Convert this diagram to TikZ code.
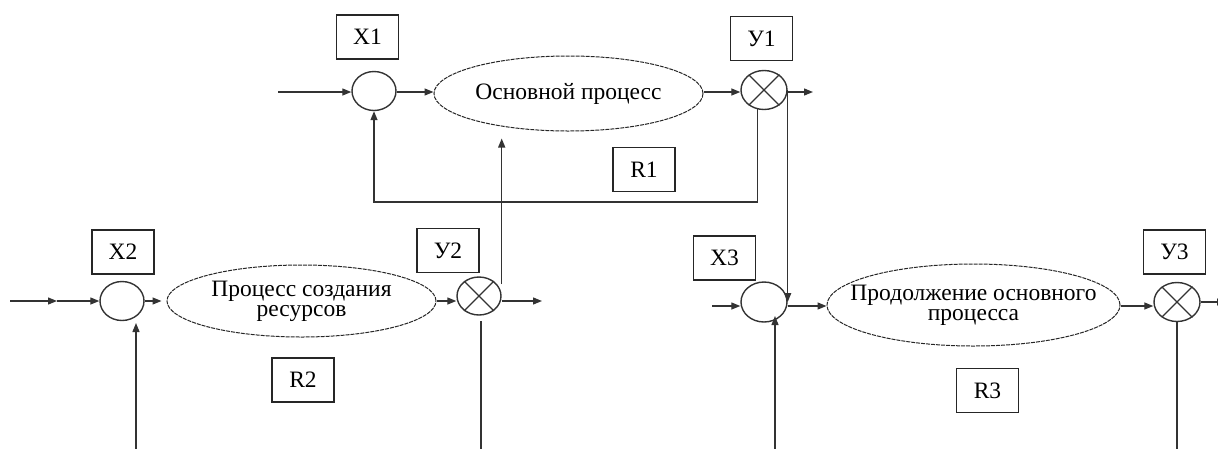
\documentclass[tikz,border=0pt]{standalone}
\usepackage{fontspec}
\setmainfont{Liberation Serif}
\usetikzlibrary{arrows.meta,shapes.geometric,calc}
\begin{document}
\begin{tikzpicture}[x=1pt,y=-1pt,
  ln/.style={line width=1.3pt,draw=black!80},
  arr/.style={ln,-{Triangle[length=9pt,width=7pt]}},
  lbl/.style={draw=black!85,line width=1.3pt,minimum width=62pt,minimum height=44pt,inner sep=0pt,font=\fontsize{23.5}{20}\selectfont},
  sumc/.style={ellipse,draw=black!80,line width=1.4pt,minimum width=46pt,minimum height=39pt,inner sep=0pt},
  proc/.style={ellipse,draw=black!85,line width=1pt,dash pattern=on 4pt off 1pt,inner xsep=-40pt,inner ysep=-8pt,align=center,font=\fontsize{23.5}{20}\selectfont}
]
\useasboundingbox (0,0) rectangle (1218,448);
% reference rows
\coordinate (r1) at (0,92);
\coordinate (r2) at (0,301);
\coordinate (r3) at (0,306);
\coordinate (fb1) at (0,202);
\coordinate (bot) at (0,450);
% top row
\node[lbl] (bx1) at (367.5,37) {X1};
\node[lbl] (by1) at (761.5,38.5) {У1};
\node[lbl] (br1) at (644,169.5) {R1};
\node[sumc,minimum width=44pt] (c1) at (374,91) {};
\node[proc,minimum width=269pt,minimum height=75pt] (e1) at (568.5,93.5) {Основной процесс};
\node[sumc] (y1) at (764,90) {};
\draw[ln] (y1.45) -- (y1.225) (y1.135) -- (y1.315);
\coordinate (in1) at (278,92);
\coordinate (out1) at (813,92);
\draw[arr] (in1) -- (c1.west |- r1);
\draw[arr] (c1.east |- r1) -- (e1.west |- r1);
\draw[arr] (e1.east |- r1) -- (y1.west |- r1);
\draw[arr] (y1.east |- r1) -- (out1);
\draw[arr] (y1.252) -- (y1.252 |- fb1) -| (c1.south);
% second row
\node[lbl] (bx2) at (123,252) {X2};
\node[lbl] (by2) at (448,250.5) {У2};
\node[lbl] (br2) at (303,380) {R2};
\node[sumc,minimum width=44pt] (c2) at (122,301) {};
\node[proc,minimum width=269pt,minimum height=72pt] (e2) at (301.5,301) {Процесс создания\\ресурсов};
\node[sumc,minimum width=44pt,minimum height=38pt] (y2) at (479,296) {};
\draw[ln] (y2.45) -- (y2.225) (y2.135) -- (y2.315);
\coordinate (in2) at (10,301);
\coordinate (mid2) at (57,301);
\coordinate (out2) at (542,301);
\draw[arr] (in2) -- (mid2);
\draw[arr] (mid2) -- (c2.west |- r2);
\draw[arr,shorten >=5pt] (c2.east |- r2) -- (e2.west |- r2);
\draw[arr] (e2.east |- r2) -- (y2.west |- r2);
\draw[arr] (y2.east |- r2) -- (out2);
\coordinate (f2) at (136,323);
\draw[arr] (f2 |- bot) -- (f2);
\coordinate (d2) at (481,321);
\draw[ln] (d2) -- (d2 |- bot);
\coordinate (j2) at ($(y2.east)+(0,-12)$);
\draw[arr] (j2) -- ($(e1.south -| j2)+(0,7)$);
% third row
\node[lbl] (bx3) at (724.5,258) {X3};
\node[lbl] (by3) at (1174.5,252) {У3};
\node[lbl] (br3) at (987.5,390.5) {R3};
\node[sumc,minimum height=40pt] (c3) at (764,302) {};
\node[proc,minimum width=293pt,minimum height=82pt] (e3) at (973.5,305) {Продолжение основного\\процесса};
\node[sumc] (y3) at (1177,302) {};
\draw[ln] (y3.45) -- (y3.225) (y3.135) -- (y3.315);
\coordinate (in3) at (712,306);
\coordinate (out3) at (1226,302);
\draw[arr] (in3) -- (c3.west |- r3);
\draw[arr] (c3.east |- r3) -- (e3.west |- r3);
\draw[arr] (e3.east |- r3) -- (y3.west |- r3);
\draw[arr] (y3.east) -- (out3);
\coordinate (f3) at (775,316);
\draw[arr] (f3 |- bot) -- (f3);
\draw[ln] (y3.south) -- (y3.south |- bot);
% link from Y1 down to X3 sum
\draw[arr] (y1.east) -- (c3.east);
\end{tikzpicture}
\end{document}
